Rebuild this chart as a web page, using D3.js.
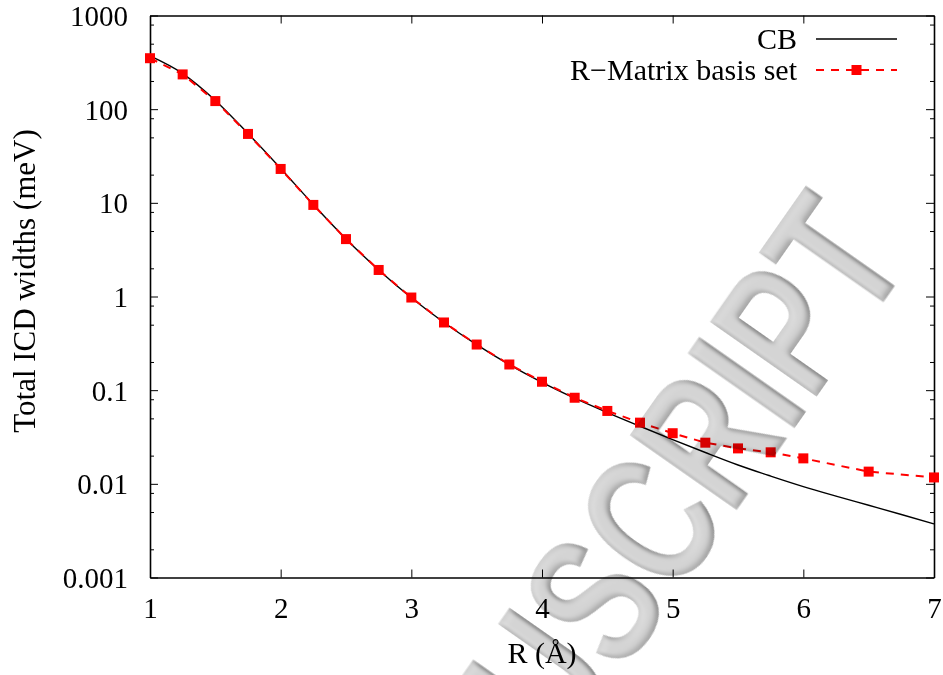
<!DOCTYPE html>
<html>
<head>
<meta charset="utf-8">
<script src="https://cdn.jsdelivr.net/npm/d3@7"></script>
<style>
  body { margin: 0; background: #fff; }
  text { font-family: "Liberation Serif", "Times New Roman", serif; }
  .wm { mix-blend-mode: multiply; }
</style>
</head>
<body>
<div id="chart"></div>
<script>
// CB curve
const cbR = [1, 1.25, 1.5, 1.75, 2, 2.25, 2.5, 2.75, 3, 3.25, 3.5, 3.75, 4, 4.25, 4.5, 4.75, 5, 5.25, 5.5, 5.75, 6, 6.25, 6.5, 6.75, 7];
const cbW = [370, 240, 124, 55, 23.3, 9.6, 4.12, 1.92, 0.97, 0.528, 0.306, 0.187, 0.121, 0.082, 0.0576, 0.0412, 0.0297, 0.0216, 0.0159, 0.0121, 0.00935, 0.0074, 0.0059, 0.0047, 0.00373];

// R-Matrix basis set points
const rmR = [1, 1.25, 1.5, 1.75, 2, 2.25, 2.5, 2.75, 3, 3.25, 3.5, 3.75, 4, 4.25, 4.5, 4.75, 5, 5.25, 5.5, 5.75, 6, 6.5, 7];
const rmW = [350, 235, 122, 54.4, 23.0, 9.5, 4.1, 1.92, 0.975, 0.528, 0.307, 0.188, 0.123, 0.083, 0.060, 0.045, 0.0347, 0.0275, 0.0239, 0.0217, 0.0187, 0.0135, 0.0117];

const xTicks = [1, 2, 3, 4, 5, 6, 7];
const yTicks = [0.001, 0.01, 0.1, 1, 10, 100, 1000];
const yTickLabels = ["0.001", "0.01", "0.1", "1", "10", "100", "1000"];
const yMinor = [];
yTicks.slice(0, -1).forEach((d) => [2, 5, 8].forEach((m) => yMinor.push(d * m)));

const width = 943, height = 675;
const margin = { left: 150, right: 9, top: 15.5, bottom: 97.5 };
const innerW = width - margin.left - margin.right;
const innerH = height - margin.top - margin.bottom;

const svg = d3.select("#chart").append("svg")
  .attr("width", width).attr("height", height);

// tube-like shading for the watermark
const defs = svg.append("defs");
const f = defs.append("filter").attr("id", "bevel")
  .attr("x", "-5%").attr("y", "-5%").attr("width", "110%").attr("height", "110%");
f.append("feGaussianBlur").attr("in", "SourceAlpha").attr("stdDeviation", 4).attr("result", "blur");
f.append("feDiffuseLighting").attr("in", "blur").attr("surfaceScale", 5)
  .attr("diffuseConstant", 1).attr("lighting-color", "#dadada").attr("result", "light")
  .append("feDistantLight").attr("azimuth", 225).attr("elevation", 70);
f.append("feComposite").attr("in", "light").attr("in2", "SourceAlpha").attr("operator", "in");

const g = svg.append("g").attr("transform", `translate(${margin.left},${margin.top})`);

const x = d3.scaleLinear().domain([1, 7]).range([0, innerW]);
const y = d3.scaleLog().domain([0.001, 1000]).range([innerH, 0]);

// minor ticks
g.append("g").call(d3.axisLeft(y).tickValues(yMinor).tickSize(-4).tickFormat(""))
  .call((s) => s.select(".domain").remove());
g.append("g").attr("transform", `translate(${innerW},0)`)
  .call(d3.axisRight(y).tickValues(yMinor).tickSize(-4).tickFormat(""))
  .call((s) => s.select(".domain").remove());

// major ticks
const yl = g.append("g")
  .call(d3.axisLeft(y).tickValues(yTicks).tickSize(-8).tickSizeOuter(0).tickPadding(22)
    .tickFormat((d, i) => yTickLabels[i]));
g.append("g").attr("transform", `translate(${innerW},0)`)
  .call(d3.axisRight(y).tickValues(yTicks).tickSize(-8).tickSizeOuter(0).tickFormat(""));
const xb = g.append("g").attr("transform", `translate(0,${innerH})`)
  .call(d3.axisBottom(x).tickValues(xTicks).tickSize(-8).tickSizeOuter(0).tickPadding(20)
    .tickFormat(d3.format("d")));
g.append("g")
  .call(d3.axisTop(x).tickValues(xTicks).tickSize(-8).tickSizeOuter(0).tickFormat(""));

g.selectAll(".domain").attr("stroke-width", 1.6);
g.selectAll(".tick line").attr("stroke-width", 1);
g.selectAll(".tick text")
  .attr("font-family", "Liberation Serif")
  .attr("font-size", 29)
  .attr("fill", "#000");
xb.selectAll(".tick text").attr("dy", "0.7em");
yl.selectAll(".tick text").attr("dy", "0.34em");

// axis titles
svg.append("text")
  .attr("transform", "translate(35,281) rotate(-90)")
  .attr("text-anchor", "middle").attr("font-size", 31)
  .text("Total ICD widths (meV)");
svg.append("text")
  .attr("x", margin.left + innerW / 2).attr("y", 663)
  .attr("text-anchor", "middle").attr("font-size", 30)
  .text("R (Å)");

// data lines
const cb = cbR.map((r, i) => ({ r, w: cbW[i] }));
const rm = rmR.map((r, i) => ({ r, w: rmW[i] }));

const plot = g.append("g");
plot.append("path").datum(cb)
  .attr("fill", "none").attr("stroke", "#000").attr("stroke-width", 1.4)
  .attr("d", d3.line().x((d) => x(d.r)).y((d) => y(d.w)).curve(d3.curveMonotoneX));

plot.append("path").datum(rm)
  .attr("fill", "none").attr("stroke", "#ff0000").attr("stroke-width", 2)
  .attr("stroke-dasharray", "8,7")
  .attr("d", d3.line().x((d) => x(d.r)).y((d) => y(d.w)));

const ms = 10;
plot.selectAll("rect.pt").data(rm).join("rect")
  .attr("class", "pt")
  .attr("x", (d) => x(d.r) - ms / 2).attr("y", (d) => y(d.w) - ms / 2)
  .attr("width", ms).attr("height", ms).attr("fill", "#ff0000");

// legend
const leg = svg.append("g");
const legItems = [
  { label: "CB", y: 39, color: "#000", dash: null, w: 1.4, marker: false },
  { label: "R\u2212Matrix basis set", y: 70, color: "#ff0000", dash: "8,7", w: 2, marker: true },
];
legItems.forEach((d) => {
  leg.append("text").attr("x", 797).attr("y", d.y + 10)
    .attr("text-anchor", "end").attr("font-size", 30).text(d.label);
  leg.append("line").attr("x1", 816).attr("x2", 897).attr("y1", d.y).attr("y2", d.y)
    .attr("stroke", d.color).attr("stroke-width", d.w)
    .attr("stroke-dasharray", d.dash);
  if (d.marker) {
    leg.append("rect").attr("x", 856.5 - ms / 2).attr("y", d.y - ms / 2)
      .attr("width", ms).attr("height", ms).attr("fill", d.color);
  }
});

// watermark
svg.append("g").attr("class", "wm")
  .append("text")
  .attr("transform", "translate(913,259) rotate(-55) scale(0.73,1)")
  .attr("text-anchor", "end")
  .attr("font-size", 190)
  .attr("font-weight", "bold")
  .attr("fill", "#ccc")
  .attr("filter", "url(#bevel)")
  .style("font-family", "'Liberation Sans', Arial, sans-serif")
  .text("ACCEPTED MANUSCRIPT");
</script>
</body>
</html>
